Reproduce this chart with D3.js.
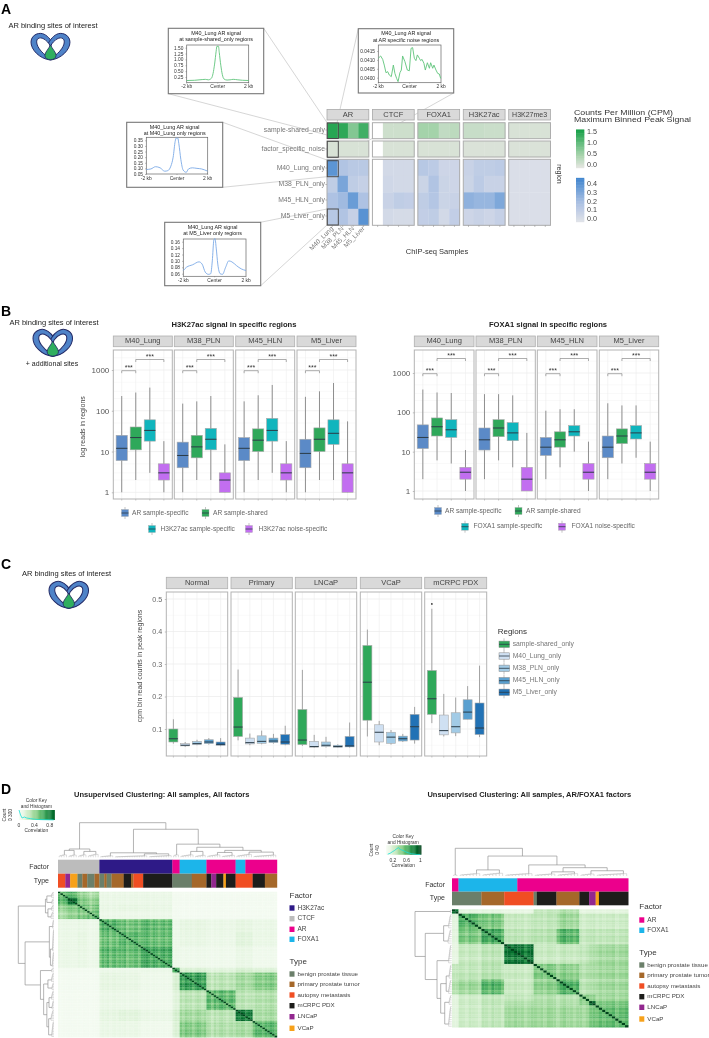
<!DOCTYPE html>
<html><head><meta charset="utf-8">
<script src="https://cdn.jsdelivr.net/npm/d3@7/dist/d3.min.js"></script>
<style>html,body{margin:0;padding:0;background:#fff}svg{display:block;filter:blur(.3px)}text{font-family:"Liberation Sans",Arial,sans-serif}</style>
</head><body><div id="c"></div>
<script>
// ---------- Panel A data ----------
const heatFactors=['AR','CTCF','FOXA1','H3K27ac','H3K27me3'];
const heatSamples=['M40_Lung','M38_PLN','M45_HLN','M5_Liver'];
const heatRegionsBlue=['M40_Lung_only','M38_PLN_only','M45_HLN_only','M5_Liver_only'];
const heatShared=[[1.5,1.45,0.8,1.3],[null,0.2,0.2,0.2],[0.55,0.55,0.3,0.35],[0.25,0.25,0.22,0.22],[0.1,0.1,0.1,0.1]];
const heatNoise=[[0.1,0.1,0.1,0.1],[null,0.1,0.1,0.1],[0.1,0.1,0.1,0.1],[0.08,0.08,0.08,0.08],[0.08,0.08,0.08,0.08]];
const heatM40=[[0.38,0.17,0.14,0.14],[null,0.05,0.05,0.05],[0.15,0.13,0.07,0.07],[0.09,0.12,0.12,0.13],[0.02,0.02,0.02,0.02]];
const heatM38=[[0.12,0.31,0.12,0.10],[null,0.06,0.05,0.05],[0.08,0.17,0.08,0.07],[0.08,0.13,0.09,0.09],[0.02,0.02,0.02,0.02]];
const heatM45=[[0.18,0.22,0.35,0.18],[null,0.09,0.12,0.11],[0.12,0.16,0.08,0.09],[0.26,0.24,0.24,0.30],[0.02,0.02,0.02,0.02]];
const heatM5=[[0.15,0.17,0.10,0.39],[null,0.05,0.04,0.04],[0.11,0.12,0.05,0.11],[0.07,0.09,0.07,0.10],[0.02,0.02,0.02,0.02]];
const inset1X=[-2,-1.5,-1,-.8,-.6,-.4,-.3,-.2,-.1,-.05,.05,.1,.2,.3,.4,.6,.8,1,1.3,1.6,2];
const inset1Y=[.10,.11,.14,.15,.13,.2,.4,.8,1.35,1.56,1.56,1.3,.75,.35,.17,.12,.13,.15,.13,.11,.1];
const inset2X=[-2,-1.85,-1.72,-1.62,-1.51,-1.40,-1.30,-1.17,-1.04,-.94,-.83,-.74,-.62,-.53,-.45,-.3,-.15,-.02,.09,.19,.3,.4,.49,.62,.7,.79,.91,1,1.13,1.26,1.34,1.47,1.55,1.68,1.79,1.89,1.98];
const inset2Y=[.04109,.04122,.04103,.04071,.04028,.04034,.04015,.04006,.04071,.04024,.03996,.03978,.04028,.04043,.04122,.0409,.04043,.04039,.04165,.04169,.04109,.04096,.04128,.04109,.04096,.04103,.04081,.04043,.04084,.04053,.04084,.04053,.04071,.04043,.04024,.04021,.03996];
const inset3X=[-2,-1.7,-1.4,-1.1,-.8,-.6,-.4,-.25,-.12,-.05,.05,.12,.25,.4,.6,.75,1,1.3,1.6,2];
const inset3Y=[.09,.095,.115,.105,.075,.08,.12,.2,.34,.37,.37,.32,.18,.085,.065,.095,.105,.1,.095,.075];
const inset4X=[-2,-1.8,-1.4,-1,-.8,-.6,-.4,-.25,-.15,-.05,.02,.1,.2,.35,.5,.7,.9,1.1,1.4,1.7,2];
const inset4Y=[.07,.08,.088,.097,.09,.065,.058,.06,.1,.165,.17,.14,.09,.06,.058,.08,.1,.097,.085,.075,.07];

// ---------- Panel B data: [low whisker, q1, median, q3, high whisker] ----------
const patientFacets=['M40_Lung','M38_PLN','M45_HLN','M5_Liver'];
const boxGroups=['spec','shared','mark','noise'];
const h3Lung=[[1,6,12,25,230],[2,11,22,40,280],[3,18,33,60,370],[1,2,3,5,18]];
const h3Pln=[[1,4,8,17,150],[2,7,13,25,170],[2,11,20,37,230],[1,1,2,3,15]];
const h3Hln=[[1,6,12,22,170],[2,10,19,36,240],[3,18,33,65,430],[1,2,3,5,18]];
const h3Liver=[[1,4,9,20,220],[2,10,20,38,300],[2,15,28,60,480],[1,1,3,5,55]];
const foxLung=[[2,12,23,48,380],[6,25,43,72,320],[5,23,36,65,310],[1,2,3,4,11]];
const foxPln=[[2,11,20,40,290],[6,24,40,65,290],[4,19,30,55,270],[1,1,2,4,30]];
const foxHln=[[2,8,13,23,110],[4,13,20,32,120],[10,25,32,46,120],[1,2,3,5,18]];
const foxLiver=[[2,7,13,25,170],[5,16,25,38,150],[7,21,30,46,150],[1,2,3,5,18]];
const logTicks=[1,10,100,1000];

// ---------- Panel C data ----------
const cohortFacets=['Normal','Primary','LNCaP','VCaP','mCRPC PDX'];
const regionNames=['sample-shared_only','M40_Lung_only','M38_PLN_only','M45_HLN_only','M5_Liver_only'];
const cNormal=[[.055,.06,.07,.1,.13],[.045,.048,.05,.055,.06],[.05,.052,.055,.062,.067],[.052,.055,.06,.067,.072],[.047,.05,.053,.06,.072]];
const cPrimary=[[.065,.077,.106,.197,.283],[.05,.054,.058,.072,.086],[.053,.056,.062,.079,.095],[.055,.058,.063,.072,.085],[.05,.053,.06,.083,.11]];
const cLncap=[[.048,.052,.066,.16,.282],[.042,.044,.046,.062,.082],[.043,.046,.05,.06,.076],[.043,.044,.046,.05,.053],[.043,.045,.048,.077,.12]];
const cVcap=[[.077,.127,.244,.357,.406],[.05,.06,.09,.113,.125],[.052,.056,.075,.09,.097],[.06,.063,.07,.078,.085],[.055,.066,.107,.145,.168]];
const cPdx=[[.118,.145,.193,.28,.47],[.077,.082,.095,.143,.208],[.078,.088,.107,.15,.197],[.13,.13,.152,.19,.232],[.075,.083,.103,.18,.295]];
const cTicks=[.1,.2,.3,.4,.5];

// ---------- Panel D data ----------
const factorColor={H3K27ac:'#2e1a87',CTCF:'#bcbcbc',AR:'#ec008c',FOXA1:'#1cb5ea'};
const typeColor={'benign prostate tissue':'#6b7f6a','primary prostate tumor':'#a5682a','autopsy metastasis':'#f04e23','mCRPC PDX':'#1d1d1b','LNCaP':'#92278f','VCaP':'#f7a11a'};
const B='benign prostate tissue',P='primary prostate tumor',M='autopsy metastasis',K='mCRPC PDX',L='LNCaP',V='VCaP';
const leftFactorRuns=[['CTCF',17],['H3K27ac',30],['AR',3],['FOXA1',11],['AR',12],['FOXA1',4],['AR',13]];
const leftTypeRuns=[[M,3],[L,2],[V,3],[B,2],[P,2],[B,3],[P,2],[B,2],[P,1],[B,2],[P,5],[K,3],[P,1],[M,4],[K,12],[B,8],[P,6],[K,2],[L,2],[K,3],[V,1],[K,4],[M,7],[K,5],[P,5]];
const leftBlockSizes=[4,4,4,5,8,9,13,3,11,12,7,10];
const leftBlocks=[
[.5,.5,.4,.33,.08,.08,.08,.03,.025,.025,.025,.025],
[.5,.7,.42,.36,.07,.07,.07,.03,.025,.025,.025,.025],
[.4,.42,.5,.45,.09,.1,.09,.03,.025,.025,.025,.025],
[.33,.36,.45,.48,.07,.07,.07,.03,.025,.025,.025,.025],
[.08,.07,.09,.07,.56,.48,.52,.07,.1,.08,.1,.08],
[.08,.07,.1,.07,.48,.52,.5,.07,.09,.07,.12,.08],
[.08,.07,.09,.07,.52,.5,.58,.07,.06,.05,.08,.05],
[.03,.03,.03,.03,.07,.07,.07,.6,.17,.13,.17,.15],
[.025,.025,.025,.025,.1,.09,.06,.17,.62,.27,.33,.42],
[.025,.025,.025,.025,.08,.07,.05,.13,.27,.52,.27,.3],
[.025,.025,.025,.025,.1,.12,.08,.17,.33,.27,.72,.32],
[.025,.025,.025,.025,.08,.08,.05,.15,.42,.3,.32,.52]];
const leftStripes=[.1,-.1,.05,.1,.15,.2,.1,.05,.1,-.1,.05,-.05,.1,-.15,.05,.1,.15,-.1,.1,0,.15,-.1,.05,.1,-.05,.1,.05,.15,-.1,.05,0,.1,.1,-.05,.05,.1,.15,.05,-.05,.1,.05,-.1,.05,.1,-.05,.05,.1,-.1,.1,.05,.1,-.05,.15,.05,.1,-.1,.05,.15,.1,-.05,.05,.1,.05,-.15,.1,-.05,.1,.15,.05,-.1,.05,.1,0,.1,.05,.15,.1,-.05,.05,.1,-.1,.1,.05,.05,-.05,.1,.05,.15,.1,-.05];
const rightFactorRuns=[['AR',2],['FOXA1',18],['AR',34]];
const rightTypeRuns=[[B,9],[P,7],[M,9],[B,1],[K,6],[P,7],[K,3],[L,2],[V,1],[K,9]];
const rightBlockSizes=[2,7,7,9,7,7,3,2,10];
const rightBlocks=[
[.85,.12,.12,.1,.25,.3,.12,.12,.12],
[.12,.5,.42,.22,.24,.33,.2,.2,.2],
[.12,.42,.55,.25,.27,.5,.24,.24,.24],
[.1,.22,.25,.75,.22,.22,.25,.28,.33],
[.25,.24,.27,.22,.42,.38,.3,.3,.34],
[.3,.33,.5,.22,.38,.52,.28,.28,.33],
[.12,.2,.24,.25,.3,.28,.42,.38,.35],
[.12,.2,.24,.28,.3,.28,.38,.82,.42],
[.12,.2,.24,.33,.34,.33,.35,.42,.48]];
const rightStripes=[0,0,.15,.1,-.05,.2,.1,.05,-.1,.15,.1,-.05,.2,.05,.1,-.1,.05,.1,0,.15,.05,.1,-.1,.05,.15,.1,0,.1,-.05,.15,.1,.05,-.1,.1,.2,.05,.1,-.05,.1,.05,-.1,.05,.1,.15,-.05,.1,0,.1,.05,.15,-.05,.1,.05,.15];
const leftTree=[1,[.24,[.2,[.1,4],[.09,4]],[.17,[.1,4],[.12,5]]],[.81,[.13,[.06,6],[.1,[.06,14],[.07,10]]],[.38,[.1,3],[.29,[.17,[.1,6],[.08,5]],[.2,[.14,[.1,6],[.08,6]],[.15,[.12,7],[.09,10]]]]]]];
const rightTree=[1,[.05,2],[.72,[.22,[.12,7],[.14,7]],[.4,[.12,9],[.3,[.15,[.1,7],[.12,7]],[.19,[.1,5],[.12,10]]]]]];
const leftHistX=[0,.04,.08,.14,.2,.3,.4,.5,.6,.7,.8,.9];
const leftHistY=[300,150,60,90,60,40,25,15,10,8,5,3];
const rightHistX=[.05,.12,.18,.25,.3,.36,.42,.5,.58,.65,.75,.9,1];
const rightHistY=[2,6,12,18,24,30,22,18,12,8,4,1,1];

const W=709,H=1038;
const svg=d3.select('#c').append('svg').attr('width',W).attr('height',H);
const FONT='"Liberation Sans",Arial,sans-serif';
function txt(g,x,y,s,o={}){
  const t=g.append('text').attr('x',x).attr('y',y).text(s)
   .attr('font-size',o.size||7).attr('fill',o.fill||'#333').attr('text-anchor',o.anchor||'start')
   .attr('font-weight',o.weight||'normal').attr('dominant-baseline',o.base||'middle');
  if(o.rot!=null)t.attr('transform',`rotate(${o.rot} ${x} ${y})`);
  if(o.len)t.attr('textLength',o.len).attr('lengthAdjust','spacingAndGlyphs');
  return t;
}
function rect(g,x0,y0,x1,y1,fill,stroke,sw){
  return g.append('rect').attr('x',x0).attr('y',y0).attr('width',x1-x0).attr('height',y1-y0)
   .attr('fill',fill||'none').attr('stroke',stroke||'none').attr('stroke-width',sw||0);
}
function line(g,a,b,c,d,stroke,sw){
  return g.append('line').attr('x1',a).attr('y1',b).attr('x2',c).attr('y2',d).attr('stroke',stroke).attr('stroke-width',sw);
}

// Icon
function icon(x,y,k){
  const g=svg.append('g').attr('transform',`translate(${x},${y}) scale(${k})`);
  const petal='M59 82C25 78 0 50 0 28C0 8 20 -2 35 2C48 6 60 18 70 40C74 55 70 72 59 82Z';
  const hole='M54 74C30 60 13 36 18 21C24 9 42 15 55 33C61 44 60 60 54 74Z';
  const mk=(p,f,m)=>{const e=g.append('path').attr('d',p).attr('fill',f).attr('stroke','#232a66').attr('stroke-width',3);
     if(m)e.attr('transform','translate(118,0) scale(-1,1)');};
  mk(petal,'#4f83c8');mk(petal,'#4f83c8',1);mk(hole,'#fff');mk(hole,'#fff',1);
  g.append('path').attr('d','M59 36C64 48 76 58 76 68C76 76 68 81 59 81C50 81 42 76 42 68C42 58 54 48 59 36Z')
   .attr('fill','#2fae5f').attr('stroke','#232a66').attr('stroke-width',2.5);
}
icon(31,33,.33);icon(33,329,.335);icon(49,581,.335);

// Panel letters
[['A',1,14],['B',1,316],['C',1,569],['D',1,794]].forEach(d=>txt(svg,d[1],d[2],d[0],{size:14,weight:'bold',fill:'#000',base:'auto'}));
txt(svg,53,26.5,'AR binding sites of interest',{size:7.5,anchor:'middle',fill:'#222'});
txt(svg,54,323.5,'AR binding sites of interest',{size:7.5,anchor:'middle',fill:'#222'});
txt(svg,52,364,'+ additional sites',{size:7,anchor:'middle',fill:'#222'});
txt(svg,66.5,574.5,'AR binding sites of interest',{size:7.5,anchor:'middle',fill:'#222'});

// ---------- Panel A ----------
const gA=svg.append('g');
const connectors=[[263.7,28.3,326.7,122],[168.3,93.7,327,135],[358.3,28.7,336.7,124],[453.7,93,339,157],[222.7,122.3,327,160],[222.7,187.3,327,176.7],[260.3,222.3,327,209],[260.7,285.7,327,225]];
connectors.forEach(c=>line(gA,c[0],c[1],c[2],c[3],'#c4c4c4',.7));
const gCol=d3.scaleLinear().domain([0,.5,1.5]).range(['#e3e5e0','#abd5af','#27a653']);
const bCol=d3.scaleLinear().domain([0,.1,.2,.4]).range(['#dfe2e8','#c5d0e6','#a8bfe2','#5490d2']);
const facetX=d3.scaleBand().domain(heatFactors).range([327,550.5]).paddingInner(.08);
const rowGroups=[
 {y0:122.7,y1:138.7,rows:['shared'],data:{shared:heatShared},col:gCol},
 {y0:141,y1:157,rows:['noise'],data:{noise:heatNoise},col:gCol},
 {y0:159.3,y1:225.3,rows:heatRegionsBlue,data:{M40_Lung_only:heatM40,M38_PLN_only:heatM38,M45_HLN_only:heatM45,M5_Liver_only:heatM5},col:bCol}];
heatFactors.forEach((f,fi)=>{
  const x0=facetX(f),bw=facetX.bandwidth();
  rect(gA,x0,109.5,x0+bw,120,'#d9d9d9','#aaa',.8);
  txt(gA,x0+bw/2,115,f,{size:f==='H3K27me3'?7:7.5,anchor:'middle',fill:'#444'});
  const xs=d3.scaleBand().domain(heatSamples).range([x0,x0+bw]);
  rowGroups.forEach(g=>{
    const ys=d3.scaleBand().domain(g.rows).range([g.y0,g.y1]);
    g.rows.forEach(r=>{
      gA.selectAll(null).data(g.data[r][fi]).enter().append('rect')
       .attr('x',(d,i)=>xs(heatSamples[i])).attr('y',ys(r)).attr('width',xs.bandwidth()+.3).attr('height',ys.bandwidth()+.3)
       .attr('fill',d=>d==null?'#fff':g.col(d));
    });
    rect(gA,x0,g.y0,x0+bw,g.y1,'none','#adadad',1);
  });
  heatSamples.forEach(s=>{
    line(gA,xs(s)+xs.bandwidth()/2,225.3,xs(s)+xs.bandwidth()/2,227,'#888',.5);
    if(fi===0)txt(gA,xs(s)+xs.bandwidth()/2+1.5,229,s,{size:6.5,anchor:'end',fill:'#777',rot:-45,base:'auto'});
  });
});
[[130,'sample-shared_only'],[149,'factor_specific_noise'],[168,'M40_Lung_only'],[184.5,'M38_PLN_only'],[200,'M45_HLN_only'],[216,'M5_Liver_only']]
 .forEach(d=>{txt(gA,325,d[0],d[1],{size:6.8,anchor:'end',fill:'#777'});line(gA,325.3,d[0],327,d[0],'#888',.5);});
[[123,138.5],[141.3,157.3],[160.7,176.7],[209,225]].forEach(d=>rect(gA,327.3,d[0],338.3,d[1],'none','#4a4a4a',1));
txt(gA,559,174,'region',{size:7,anchor:'middle',fill:'#333',rot:90});
txt(gA,437,252,'ChIP-seq Samples',{size:7.5,anchor:'middle',fill:'#333'});
txt(gA,574,112.7,'Counts Per Million (CPM)',{size:7.2,fill:'#333',len:99});
txt(gA,574,120.4,'Maximum Binned Peak Signal',{size:7.2,fill:'#333',len:117});
function colorBar(dom,scale,y0,y1,ticks){
  const y=d3.scaleLinear().domain(dom).range([y1,y0]);
  const steps=d3.range(0,30).map(i=>dom[0]+(dom[1]-dom[0])*i/29);
  gA.selectAll(null).data(steps).enter().append('rect').attr('x',576).attr('width',8.3)
    .attr('y',d=>y(d)-(y1-y0)/29).attr('height',(y1-y0)/29+.5).attr('fill',d=>scale(d));
  return y;
}
colorBar([0,1.6],gCol,130.7,167.7);
[['1.5',132],['1.0',143],['0.5',154.3],['0.0',165]].forEach(d=>txt(gA,587,d[1],d[0],{size:7.2,fill:'#444'}));
colorBar([0,.44],bCol,179.3,221.7);
[['0.4',184],['0.3',192.7],['0.2',201.7],['0.1',210.5],['0.0',219.5]].forEach(d=>txt(gA,587,d[1],d[0],{size:7.2,fill:'#444'}));

function inset(o){
  const g=svg.append('g');
  rect(g,o.box[0],o.box[1],o.box[2],o.box[3],'#fff','#777',1.1);
  txt(g,(o.box[0]+o.box[2])/2,o.box[1]+4.9,o.t1,{size:5.4,anchor:'middle',fill:'#222'});
  txt(g,(o.box[0]+o.box[2])/2,o.box[1]+11.6,o.t2,{size:5.4,anchor:'middle',fill:'#222'});
  const [px0,py0,px1,py1]=o.plot;
  const x=d3.scaleLinear().domain([-2,2]).range([px0,px1]);
  const y=d3.scaleLinear().domain(o.ydom).range([o.yr[1],o.yr[0]]);
  rect(g,px0,py0,px1,py1,'none','#666',.7);
  const pts=d3.zip(o.xs,o.ys);
  g.append('path').attr('d',d3.line().x(d=>x(d[0])).y(d=>y(d[1])).curve(o.cv||d3.curveMonotoneX)(pts))
   .attr('fill','none').attr('stroke',o.color).attr('stroke-width',.9);
  const ay=d3.axisLeft(y).tickValues(o.ticks).tickSize(1.3).tickFormat(d3.format(o.fmt));
  const ga=g.append('g').attr('transform',`translate(${px0},0)`).call(ay);
  ga.select('.domain').remove();
  ga.selectAll('text').attr('font-size',4.8).attr('font-family',FONT).attr('fill','#333').attr('dx',1);
  ga.selectAll('line').attr('stroke','#666').attr('stroke-width',.4);
  [[-2,'-2 kb'],[0,'Center'],[2,'2 kb']].forEach(d=>{
    txt(g,x(d[0]),py1+4.5,d[1],{size:4.9,anchor:'middle',fill:'#333'});
    line(g,x(d[0]),py1,x(d[0]),py1+1,'#666',.4);
  });
}
inset({box:[168.3,28.3,263.7,93.7],plot:[186.7,45,248.7,82.7],ydom:[.25,1.5],yr:[47.7,77],xs:inset1X,ys:inset1Y,ticks:[.25,.5,.75,1,1.25,1.5],fmt:'.2f',color:'#5fc47a',
  t1:'M40_Lung AR signal',t2:'at sample-shared_only regions'});
inset({box:[358.3,28.7,453.7,93],plot:[378.3,45,441,82.7],ydom:[.04,.0415],yr:[51,77.7],xs:inset2X,ys:inset2Y,ticks:[.04,.0405,.041,.0415],fmt:'.4f',color:'#5fc47a',cv:d3.curveLinear,
  t1:'M40_Lung AR signal',t2:'at AR specific noise regions'});
inset({box:[126.7,122.3,222.7,187.3],plot:[146.3,137.3,207.7,174],ydom:[.05,.35],yr:[140.3,174],xs:inset3X,ys:inset3Y,ticks:[.05,.1,.15,.2,.25,.3,.35],fmt:'.2f',color:'#7aa9e6',
  t1:'M40_Lung AR signal',t2:'at M40_Lung only regions'});
inset({box:[164.7,222.3,260.7,285.7],plot:[183.3,239,246,276.3],ydom:[.06,.16],yr:[241.7,273.7],xs:inset4X,ys:inset4Y,ticks:[.06,.08,.1,.12,.14,.16],fmt:'.2f',color:'#7aa9e6',
  t1:'M40_Lung AR signal',t2:'at M5_Liver only regions'});

// ---------- box helpers ----------
function boxFacet(g,o){
  const {x0,x1,y0,y1,stripY,name,data,groups,colors,y,grid,minor,bw}=o;
  rect(g,x0,stripY[0],x1,stripY[1],'#d9d9d9','#b0b0b0',.8);
  txt(g,(x0+x1)/2,(stripY[0]+stripY[1])/2,name,{size:7.5,anchor:'middle',fill:'#444'});
  const x=d3.scalePoint().domain(groups).range([x0,x1]).padding(.6);
  const pg=g.append('g');
  minor.forEach(v=>line(pg,x0,y(v),x1,y(v),'#f3f3f3',.5));
  grid.forEach(v=>line(pg,x0,y(v),x1,y(v),'#e8e8e8',.6));
  groups.forEach(c=>line(pg,x(c),y0,x(c),y1,'#ececec',.6));
  data.forEach((d,i)=>{
    const cx=x(groups[i]);
    line(g,cx,y(d[0]),cx,y(d[4]),o.wcol||'#8e8e8e',1);
    rect(g,cx-bw/2,y(d[3]),cx+bw/2,y(d[1]),colors[i],'#a9a9a9',.6);
    line(g,cx-bw/2,y(d[2]),cx+bw/2,y(d[2]),'#2b3b46',1);
    line(g,cx,y1,cx,y1+1.5,'#888',.5);
  });
  rect(g,x0,y0,x1,y1,'none','#b3b3b3',1);
  return x;
}
function boxKey(g,x,y,c,label,size){
  line(g,x+3.5,y-6,x+3.5,y+6,'#aaa',.7);
  rect(g,x,y-3.5,x+7,y+3.5,c,'#aaa',.4);
  line(g,x,y,x+7,y,'#2b3b46',.8);
  txt(g,x+(size||7.5),y,label,{size:6.6,fill:'#666'});
}
const bColors=['#5b8ac7','#2fa85a','#10b5bd','#c26ef0'];
function panelB(o){
  const g=svg.append('g');
  const y=d3.scaleLog().domain([1,1000]).range([o.yr[0],o.yr[1]]);
  const minor=[2,3,5,20,30,50,200,300,500,2000];
  o.facets.forEach((f,i)=>{
    const x=boxFacet(g,{x0:f[0],x1:f[1],y0:350,y1:499,stripY:[336,346.7],name:patientFacets[i],data:o.data[i],groups:boxGroups,colors:bColors,y,grid:logTicks,minor,bw:11.2});
    const b1=y(1000)+.7,b2=o.b2;
    const br=(a,b,yy)=>{
      g.append('path').attr('d',`M${x(a)} ${yy+2.5}V${yy}H${x(b)}V${yy+2.5}`).attr('fill','none').attr('stroke','#777').attr('stroke-width',.6);
      txt(g,(x(a)+x(b))/2,yy-2.5,'***',{size:7,anchor:'middle',fill:'#333'});
    };
    br('spec','shared',b1);br('shared','noise',b2);
  });
  const ax=d3.axisLeft(y).tickValues(logTicks).tickSize(1.5).tickFormat(d3.format('d'));
  const a=g.append('g').attr('transform',`translate(${o.facets[0][0]},0)`).call(ax);
  a.select('.domain').remove();
  a.selectAll('text').attr('font-size',8).attr('font-family',FONT).attr('fill','#555').attr('dx',.5);
  a.selectAll('line').attr('stroke','#888').attr('stroke-width',.5);
  txt(g,o.tx,325,o.title,{size:7.6,anchor:'middle',weight:'bold',fill:'#222'});
  o.keys.forEach((k,i)=>boxKey(g,k[0],k[1],bColors[i],k[2],k[3]));
}
panelB({facets:[[113.3,172.3],[174.3,233.3],[235.7,294.7],[297,356]],data:[h3Lung,h3Pln,h3Hln,h3Liver],yr:[492.3,370],b2:359.5,tx:234,
  title:'H3K27ac signal in specific regions',
  keys:[[121.5,513,'AR sample-specific',10.5],[202,513,'AR sample-shared',11],[148.5,529,'H3K27ac sample-specific',12],[245.5,529,'H3K27ac noise-specific',13]]});
panelB({facets:[[414.3,474],[476,535.3],[537.3,597],[599.3,658.7]],data:[foxLung,foxPln,foxHln,foxLiver],yr:[491,373],b2:358.5,tx:548,
  title:'FOXA1 signal in specific regions',
  keys:[[434.5,511,'AR sample-specific',10.5],[515,511,'AR sample-shared',11],[461.5,526.7,'FOXA1 sample-specific',12],[558.5,526.7,'FOXA1 noise-specific',13]]});
txt(svg,82.7,426.7,'log reads in regions',{size:7,anchor:'middle',fill:'#444',rot:-90});

// ---------- Panel C ----------
const gC=svg.append('g');
const cColors=['#2fa85a','#cfe0f2','#a2cbe6','#5aa0d0','#2272b5'];
const yC=d3.scaleLinear().domain([.1,.5]).range([729,599]);
const cData=[cNormal,cPrimary,cLncap,cVcap,cPdx];
const cFacets=[[166.3,227.7],[231,292.3],[295.3,356.7],[360.3,421.7],[424.7,486.7]];
cFacets.forEach((f,i)=>{
  const x=boxFacet(gC,{x0:f[0],x1:f[1],y0:592,y1:756,stripY:[577.3,588.7],name:cohortFacets[i],data:cData[i],groups:regionNames,colors:cColors,y:yC,grid:cTicks,minor:[.05,.15,.25,.35,.45],bw:9,wcol:'#a3a3a3'});
  if(i===4)gC.append('circle').attr('cx',x(regionNames[0])).attr('cy',yC(.485)).attr('r',.9).attr('fill','#333');
});
const axC=d3.axisLeft(yC).tickValues(cTicks).tickSize(1.5).tickFormat(d3.format('.1f'));
const aC=gC.append('g').attr('transform','translate(166.3,0)').call(axC);
aC.select('.domain').remove();
aC.selectAll('text').attr('font-size',7.2).attr('font-family',FONT).attr('fill','#666').attr('dx',.5);
aC.selectAll('line').attr('stroke','#888').attr('stroke-width',.5);
txt(gC,140,666,'cpm bin read counts in peak regions',{size:7,anchor:'middle',fill:'#444',rot:-90});
txt(gC,497.7,631.7,'Regions',{size:8,fill:'#333'});
regionNames.forEach((r,i)=>{
  const yy=[644.3,656,668.3,680.7,692.3][i];
  line(gC,504,yy-6,504,yy+6,'#aaa',.7);
  rect(gC,499,yy-3.2,509.5,yy+3.2,cColors[i],'#888',.5);
  line(gC,499,yy,509.5,yy,'#2b3b46',.8);
  txt(gC,512.7,yy,r,{size:6.8,fill:'#777'});
});

// ---------- Panel D ----------
function buildMatrix(sizes,blocks,stripes){
  const idx=[];sizes.forEach((n,i)=>{for(let k=0;k<n;k++)idx.push(i);});
  return idx.map((a,i)=>idx.map((b,j)=>{
    if(i===j)return 1;
    return Math.min(.9,blocks[a][b]*(1+stripes[i]+stripes[j]));
  }));
}
function toNode(t){
  if(t.length===2&&typeof t[1]==='number')return {n:t[1],top:t[0]};
  return {h:t[0],children:t.slice(1).map(toNode)};
}
function dendro(g,tree,pos,hgt,horizontal){
  let leaf=0;
  const segs=[],hairs=[];
  const P=(a,b)=>horizontal?[b,a]:[a,b];
  function walk(node){
    if(node.n!=null){
      let cur=pos(leaf);let curH=0;
      const n=node.n;
      leaf++;
      for(let i=1;i<n;i++){
        const nx=pos(leaf);leaf++;
        const nh=node.top*(.2+.5*i/(n-1));
        hairs.push([P(cur,hgt(curH)),P(cur,hgt(nh)),P(nx,hgt(nh)),P(nx,hgt(0))]);
        cur=(cur+nx)/2;curH=nh;
      }
      return {x:cur,h:curH};
    }
    const rs=node.children.map(walk);
    const a=rs[0],b=rs[1];
    segs.push([P(a.x,hgt(a.h)),P(a.x,hgt(node.h)),P(b.x,hgt(node.h)),P(b.x,hgt(b.h))]);
    return {x:(a.x+b.x)/2,h:node.h};
  }
  walk(toNode(tree));
  g.selectAll(null).data(hairs).enter().append('path').attr('d',d=>d3.line()(d)).attr('fill','none')
   .attr('stroke','#ababab').attr('stroke-width',.4);
  g.selectAll(null).data(segs).enter().append('path').attr('d',d=>d3.line()(d)).attr('fill','none')
   .attr('stroke','#8c8c8c').attr('stroke-width',.65);
}
function runsBar(g,x,runs,colors,yr){
  let i=0;
  const items=runs.map(r=>{const o={k:r[0],a:i,b:i+r[1]};i+=r[1];return o;});
  g.selectAll(null).data(items).enter().append('rect')
   .attr('x',d=>x(d.a)).attr('width',d=>x(d.b)-x(d.a)+.2).attr('y',yr[0]).attr('height',yr[1]-yr[0]).attr('fill',d=>colors[d.k]);
}
function clusterMap(o){
  const g=svg.append('g');
  const n=o.m.length;
  const x=d3.scaleBand().domain(d3.range(n)).range([o.x0,o.x1]);
  const y=d3.scaleBand().domain(d3.range(n)).range([o.y0,o.y1]);
  const col=d3.scaleSequential(d3.interpolateGreens).domain([0,1]);
  o.m.forEach((row,i)=>{
    g.selectAll(null).data(row).enter().append('rect')
     .attr('x',(d,j)=>x(j)).attr('y',y(i)).attr('width',x.bandwidth()+.2).attr('height',y.bandwidth()+.2)
     .attr('fill',d=>col(d));
  });
  const xr=d3.scaleLinear().domain([0,n]).range([o.x0,o.x1]);
  runsBar(g,xr,o.factor,factorColor,o.fy);
  runsBar(g,xr,o.type,typeColor,o.ty);
  dendro(g,o.tree,i=>x(i)+x.bandwidth()/2,d3.scaleLinear().domain([0,1]).range(o.topH),false);
  dendro(g,o.tree,i=>y(i)+y.bandwidth()/2,d3.scaleLinear().domain([0,1]).range(o.sideH),true);
  txt(g,o.labX,(o.fy[0]+o.fy[1])/2,'Factor',{size:7,anchor:'end',fill:'#333'});
  txt(g,o.labX,(o.ty[0]+o.ty[1])/2,'Type',{size:7,anchor:'end',fill:'#333'});
  txt(g,o.tx,795,o.title,{size:7.5,anchor:'middle',weight:'bold',fill:'#222'});
  txt(g,o.lx,o.fTitle,'Factor',{size:8,fill:'#333'});
  o.factorNames.forEach((f,i)=>{
    rect(g,o.lx,o.fKeys[i]-2.7,o.lx+5,o.fKeys[i]+2.7,factorColor[f]);
    txt(g,o.lx+8,o.fKeys[i],f,{size:6.5,fill:'#444'});
  });
  txt(g,o.lx,o.tTitle,'Type',{size:8,fill:'#333'});
  Object.keys(typeColor).forEach((f,i)=>{
    rect(g,o.lx,o.tKeys[i]-2.7,o.lx+5,o.tKeys[i]+2.7,typeColor[f]);
    txt(g,o.lx+8,o.tKeys[i],f,{size:6.2,fill:'#444'});
  });
  const k=o.key;
  const kx=d3.scaleLinear().domain(k.dom).range([k.x0,k.x1]);
  const steps=d3.range(0,41).map(i=>k.dom[0]+(k.dom[1]-k.dom[0])*i/40);
  g.selectAll(null).data(steps).enter().append('rect').attr('x',d=>kx(d)).attr('y',k.y0)
    .attr('width',(k.x1-k.x0)/40+.3).attr('height',k.y1-k.y0).attr('fill',d=>col(d));
  const hy=d3.scaleLinear().domain([0,k.hmax]).range([k.y1,k.y0]);
  g.append('path').attr('d',d3.line().x(d=>kx(d[0])).y(d=>hy(d[1]))(d3.zip(k.hx,k.hy))).attr('fill','none').attr('stroke','#19e0d8').attr('stroke-width',.8);
  const cx=(k.x0+k.x1)/2;
  txt(g,cx,k.y0-9,'Color Key',{size:4.8,anchor:'middle',fill:'#333'});
  txt(g,cx,k.y0-3,'and Histogram',{size:4.8,anchor:'middle',fill:'#333'});
  k.ticks.forEach(t=>txt(g,kx(t),k.y1+5.5,String(t),{size:5,anchor:'middle',fill:'#333'}));
  txt(g,cx,k.y1+11,'Correlation',{size:4.8,anchor:'middle',fill:'#333'});
  txt(g,k.x0-14,(k.y0+k.y1)/2,'Count',{size:4.8,anchor:'middle',fill:'#333',rot:-90});
  txt(g,k.x0-8,(k.y0+k.y1)/2,k.clabel,{size:4.8,anchor:'middle',fill:'#333',rot:-90});
}
clusterMap({m:buildMatrix(leftBlockSizes,leftBlocks,leftStripes),x0:58,x1:277,y0:891.7,y1:1037.3,
 factor:leftFactorRuns,type:leftTypeRuns,fy:[859.7,873.7],ty:[873.7,887.7],tree:leftTree,
 topH:[857.3,822.7],sideH:[54,18.3],labX:49,tx:161.7,title:'Unsupervised Clustering: All samples, All factors',
 lx:289.5,fTitle:896,factorNames:['H3K27ac','CTCF','AR','FOXA1'],fKeys:[908,918.7,929.3,939.3],tTitle:962.3,tKeys:[974,984.3,995,1005.7,1016.7,1028.3],
 key:{x0:19,x1:53.7,y0:810,y1:820,dom:[0,.9],hmax:300,hx:leftHistX,hy:leftHistY,ticks:[0,.4,.8],clabel:'0 300'}});
clusterMap({m:buildMatrix(rightBlockSizes,rightBlocks,rightStripes),x0:452,x1:628.3,y0:909.3,y1:1027.3,
 factor:rightFactorRuns,type:rightTypeRuns,fy:[878.3,891.7],ty:[891.7,905.3],tree:rightTree,
 topH:[876,848.3],sideH:[451.7,415],labX:445,tx:529.3,title:'Unsupervised Clustering: All samples, AR/FOXA1 factors',
 lx:639.3,fTitle:907,factorNames:['AR','FOXA1'],fKeys:[920,930.3],tTitle:953,tKeys:[965,975.3,986,996.7,1007.3,1019],
 key:{x0:386,x1:420.3,y0:845.3,y1:854.7,dom:[0,1],hmax:40,hx:rightHistX,hy:rightHistY,ticks:[.2,.6,1],clabel:'0 40'}});
</script></body></html>
